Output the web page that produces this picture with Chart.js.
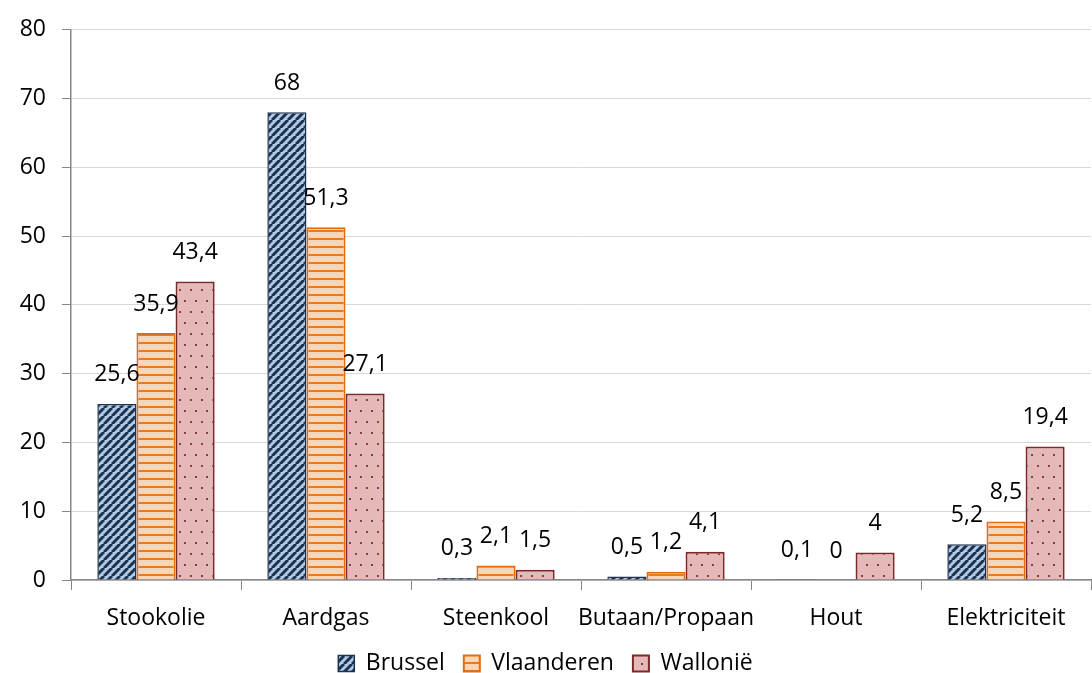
<!DOCTYPE html>
<html lang="nl">
<head>
<meta charset="UTF-8">
<title>Energiebronnen per gewest</title>
<script src="https://cdn.jsdelivr.net/npm/chart.js"></script>
<style>
  html, body { margin: 0; padding: 0; background: #fff; }
  .chart-container { width: 1092px; height: 673px; }
</style>
</head>
<body>
<div class="chart-container">
  <canvas id="energyChart" width="1092" height="673"></canvas>
</div>
<script>
const categories = ['Stookolie', 'Aardgas', 'Steenkool', 'Butaan/Propaan', 'Hout', 'Elektriciteit'];
const brussel    = [25.6, 68, 0.3, 0.5, 0.1, 5.2];
const vlaanderen = [35.9, 51.3, 2.1, 1.2, 0, 8.5];
const wallonie   = [43.4, 27.1, 1.5, 4.1, 4, 19.4];
const yTicks     = [0, 10, 20, 30, 40, 50, 60, 70, 80];

const FONT = '"Open Sans", "Noto Sans", sans-serif';
const FONT_SIZE = 23;

// small tiles for the hatched fills
function makePattern(size, draw) {
    const c = document.createElement('canvas');
    c.width = size; c.height = size;
    const g = c.getContext('2d');
    draw(g, size);
    return g.createPattern(c, 'repeat');
}

const diagPattern = makePattern(8, (g, s) => {
    g.fillStyle = '#b3cae7';
    g.fillRect(0, 0, s, s);
    g.strokeStyle = '#1c324f';
    g.lineWidth = 3;
    g.beginPath();
    for (let k = -s; k <= s * 2; k += s) {
        g.moveTo(k, s);
        g.lineTo(k + s, 0);
    }
    g.stroke();
});

const stripePattern = makePattern(8, (g, s) => {
    g.fillStyle = '#fcd5b5';
    g.fillRect(0, 0, s, s);
    g.fillStyle = '#e97a1f';
    g.fillRect(0, 6, s, 2);
});

const dotPattern = makePattern(22, (g, s) => {
    g.fillStyle = '#e6b9b8';
    g.fillRect(0, 0, s, s);
    g.fillStyle = '#86403e';
    g.fillRect(3, 3, 2, 2);
    g.fillRect(14, 3, 2, 2);
    g.fillRect(8, 14, 2, 2);
    g.fillRect(19, 14, 2, 2);
});

const fmt = v => String(v).replace('.', ',');

const valueLabels = {
    id: 'valueLabels',
    afterDatasetsDraw(chart) {
        const ctx = chart.ctx;
        ctx.save();
        ctx.font = FONT_SIZE + 'px ' + FONT;
        ctx.fillStyle = '#000';
        ctx.textAlign = 'center';
        ctx.textBaseline = 'middle';
        chart.data.datasets.forEach((ds, i) => {
            chart.getDatasetMeta(i).data.forEach((bar, j) => {
                ctx.fillText(fmt(ds.data[j]), bar.x, bar.y - 29);
            });
        });
        ctx.restore();
    }
};

const ctx = document.getElementById('energyChart').getContext('2d');
new Chart(ctx, {
    type: 'bar',
    data: {
        labels: categories,
        datasets: [
            { label: 'Brussel', data: brussel, backgroundColor: diagPattern, borderColor: '#1c324f', borderWidth: 1.5 },
            { label: 'Vlaanderen', data: vlaanderen, backgroundColor: stripePattern, borderColor: '#e46c0a', borderWidth: 2 },
            { label: 'Walloni\u00eb', data: wallonie, backgroundColor: dotPattern, borderColor: '#7a2a28', borderWidth: 2 }
        ]
    },
    options: {
        responsive: false,
        animation: false,
        layout: { padding: { top: 18, right: 1, left: 0, bottom: 0 } },
        datasets: { bar: { categoryPercentage: 0.69, barPercentage: 1 } },
        plugins: {
            legend: {
                position: 'bottom',
                maxHeight: 40,
                labels: {
                    color: '#000',
                    font: { family: FONT, size: FONT_SIZE },
                    boxWidth: 16,
                    boxHeight: 16,
                    padding: 19
                }
            },
            tooltip: { enabled: false }
        },
        scales: {
            x: {
                offset: true,
                afterFit: axis => { axis.height = 53; },
                grid: { offset: true, drawOnChartArea: false, drawTicks: true, tickLength: 10, color: '#868686' },
                border: { color: '#868686', width: 1.5 },
                ticks: { color: '#000', font: { family: FONT, size: FONT_SIZE }, padding: 15, maxRotation: 0, autoSkip: false }
            },
            y: {
                min: 0,
                max: 80,
                afterBuildTicks: axis => { axis.ticks = yTicks.map(v => ({ value: v })); },
                afterFit: axis => { axis.width = 71; },
                grid: { color: '#d9d9d9', tickLength: 9, tickColor: '#868686' },
                border: { color: '#868686', width: 1.5 },
                ticks: { color: '#000', font: { family: FONT, size: FONT_SIZE }, padding: 16 }
            }
        }
    },
    plugins: [valueLabels]
});
</script>
</body>
</html>
